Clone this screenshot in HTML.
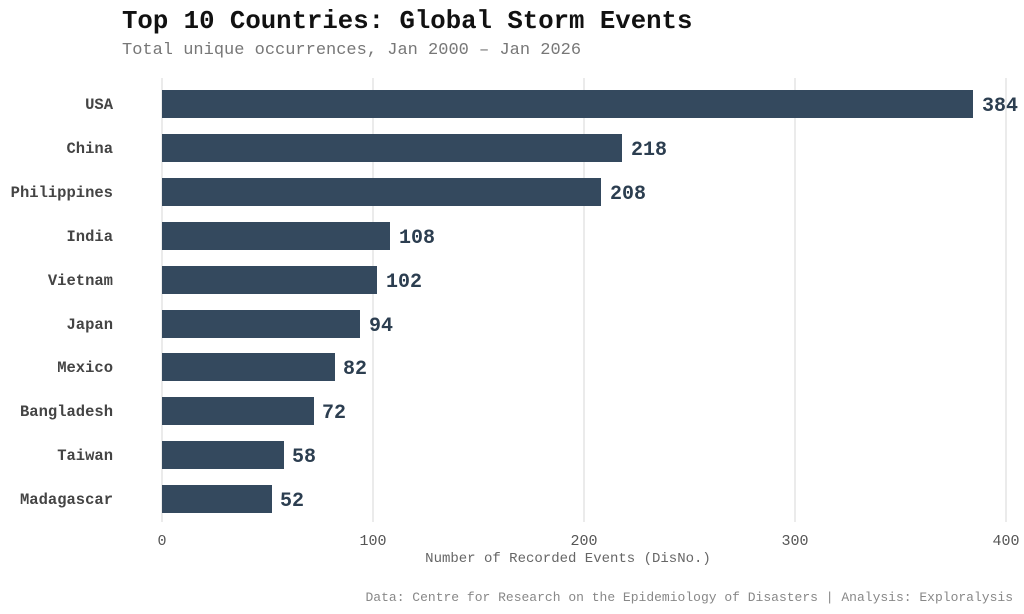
<!DOCTYPE html>
<html><head><meta charset="utf-8"><style>
body{margin:0;background:#fff;}
svg{display:block;font-family:"Liberation Mono",monospace;}
</style></head><body>
<svg width="1024" height="614" xmlns="http://www.w3.org/2000/svg">
<rect width="1024" height="614" fill="#fff"/>
<text x="122" y="28" font-size="25.7" font-weight="bold" fill="#111">Top 10 Countries: Global Storm Events</text>
<text x="122" y="54" font-size="17" fill="#777">Total unique occurrences, Jan 2000 – Jan 2026</text>
<g stroke="#ebebeb" stroke-width="2">
<line x1="162" y1="78" x2="162" y2="522"/><line x1="373" y1="78" x2="373" y2="522"/>
<line x1="584" y1="78" x2="584" y2="522"/><line x1="795" y1="78" x2="795" y2="522"/>
<line x1="1006" y1="78" x2="1006" y2="522"/>
</g>
<g fill="#34495e">
<rect x="162" y="90" width="811" height="28"/>
<rect x="162" y="134" width="460" height="28"/>
<rect x="162" y="178" width="439" height="28"/>
<rect x="162" y="222" width="228" height="28"/>
<rect x="162" y="266" width="215" height="28"/>
<rect x="162" y="310" width="198" height="28"/>
<rect x="162" y="353" width="173" height="28"/>
<rect x="162" y="397" width="152" height="28"/>
<rect x="162" y="441" width="122" height="28"/>
<rect x="162" y="485" width="110" height="28"/>
</g>
<g font-size="20" font-weight="bold" fill="#2c3e50">
<text x="982" y="111">384</text><text x="631" y="155">218</text><text x="610" y="199">208</text>
<text x="399" y="243">108</text><text x="386" y="287">102</text><text x="369" y="331">94</text>
<text x="343" y="374">82</text><text x="322" y="418">72</text><text x="292" y="462">58</text>
<text x="280" y="506">52</text>
</g>
<g font-size="15.5" font-weight="bold" fill="#444" text-anchor="end">
<text x="113" y="109">USA</text><text x="113" y="153">China</text><text x="113" y="197">Philippines</text>
<text x="113" y="241">India</text><text x="113" y="285">Vietnam</text><text x="113" y="329">Japan</text>
<text x="113" y="372">Mexico</text><text x="113" y="416">Bangladesh</text><text x="113" y="460">Taiwan</text>
<text x="113" y="504">Madagascar</text>
</g>
<g font-size="15" fill="#555" text-anchor="middle">
<text x="162" y="545">0</text><text x="373" y="545">100</text><text x="584" y="545">200</text>
<text x="795" y="545">300</text><text x="1006" y="545">400</text>
</g>
<text x="568" y="562" font-size="14" fill="#666" text-anchor="middle">Number of Recorded Events (DisNo.)</text>
<text x="1013" y="601" font-size="13" fill="#888" text-anchor="end">Data: Centre for Research on the Epidemiology of Disasters | Analysis: Exploralysis</text>
</svg>
</body></html>
